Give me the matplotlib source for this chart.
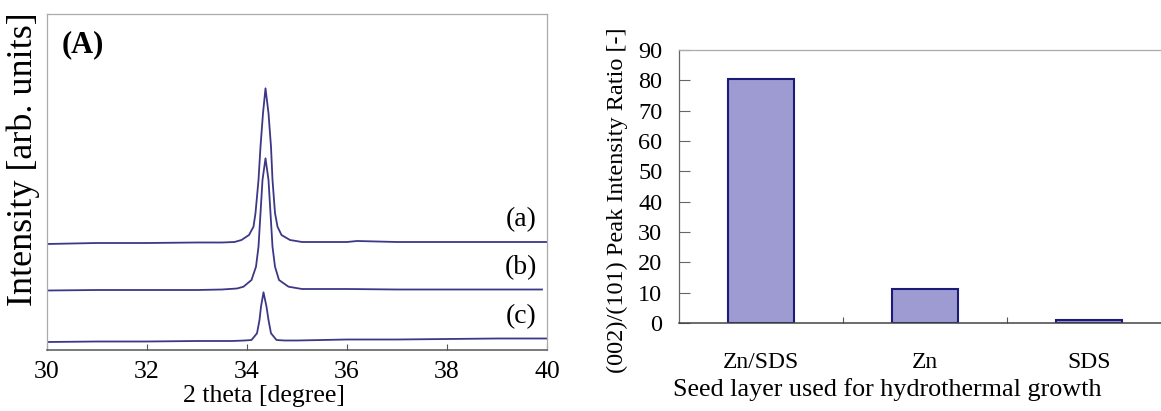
import matplotlib
matplotlib.use("Agg")
from matplotlib import pyplot as plt

plt.rcParams['font.family'] = ['Liberation Serif', 'DejaVu Serif']

# XRD patterns around the ZnO (002) peak, intensity in arbitrary units
theta_a = [30.0, 31.0, 32.0, 33.0, 33.5, 33.75, 33.89, 34.04, 34.13, 34.17, 34.23, 34.27,
           34.32, 34.37, 34.43, 34.48, 34.51, 34.56, 34.61, 34.69, 34.86, 35.1,
           35.5, 36.0, 36.2, 37.0, 38.0, 39.0, 40.0]
int_a = [106, 107, 107, 107.5, 107.5, 108, 110, 115, 123.3, 137, 170, 203.3,
         236.7, 261.7, 236.7, 203.3, 170, 137, 123.3, 115, 110, 108,
         108, 108, 109, 108, 108, 108, 108]

theta_b = [30.0, 31.0, 32.0, 33.0, 33.5, 33.8, 33.93, 34.09, 34.18, 34.23, 34.27, 34.31,
           34.37, 34.43, 34.47, 34.51, 34.56, 34.64, 34.83, 35.1, 36.0, 37.0, 38.0,
           39.0, 39.9]
int_b = [59.5, 60, 60, 60, 60.5, 61.5, 63.3, 70, 83.3, 103.3, 136.7, 170,
         191.7, 170, 136.7, 103.3, 83.3, 70, 63.3, 61, 61, 60.5, 60.5,
         60.5, 60.5]

theta_c = [30.0, 31.0, 32.0, 33.0, 33.7, 33.95, 34.09, 34.2, 34.25, 34.28, 34.33, 34.39,
           34.43, 34.48, 34.59, 34.75, 35.0, 36.0, 37.0, 38.0, 39.0, 40.0]
int_c = [8, 8.5, 8.5, 9, 9, 9.5, 10, 16.7, 30, 43.3, 57.7, 43.3,
         30, 16.7, 10, 9.5, 9.5, 10.5, 10.5, 11, 11.5, 11.5]

trace_labels = ['(a)', '(b)', '(c)']
label_heights = [130, 82, 33]

# (002)/(101) peak intensity ratio for each seed layer
seed_layers = ['Zn/SDS', 'Zn', 'SDS']
ratios = [80.5, 11.3, 1.0]

fig = plt.figure(figsize=(11.61, 4.11), dpi=100)

# ---- left panel: diffraction patterns ----
ax1 = fig.add_axes([47/1161, 61/411, 500/1161, 336/411])
line_color = '#3d3788'
for xs, ys in [(theta_a, int_a), (theta_b, int_b), (theta_c, int_c)]:
    ax1.plot(xs, ys, color=line_color, linewidth=1.3)

for lab, h in zip(trace_labels, label_heights):
    ax1.text(39.8, h, lab, ha='right', va='center', fontsize=20)

ax1.text(0.03, 0.908, '(A)', transform=ax1.transAxes, fontsize=22,
         fontweight='bold', ha='left', va='center')

ax1.set_xlim(30, 40)
ax1.set_ylim(0, 336)
ax1.set_xticks([30, 32, 34, 36, 38, 40])
ax1.set_yticks([])
ax1.tick_params(axis='x', direction='in', length=4, width=0.8, color='#555555',
                labelsize=18.5, pad=8)
for side in ['top', 'left', 'right']:
    ax1.spines[side].set_color('#aaaaaa')
    ax1.spines[side].set_linewidth(0.9)
ax1.spines['bottom'].set_color('#555555')
ax1.spines['bottom'].set_linewidth(1.1)

ax1.set_xlabel('2 theta [degree]', fontsize=18.5)
ax1.xaxis.label.set_va('center')
ax1.xaxis.set_label_coords(0.434, -0.138)
ax1.set_ylabel('Intensity [arb. units]', fontsize=26)
ax1.yaxis.label.set_va('center')
ax1.yaxis.set_label_coords(-0.048, 0.568)

# ---- right panel: peak intensity ratio ----
ax2 = fig.add_axes([679/1161, 88/411, 492/1161, 273/411])
pos = list(range(len(seed_layers)))
ax2.bar(pos, ratios, width=0.4, color='#9d9bd2', edgecolor='#1c1c78', linewidth=1.5)

ax2.set_xlim(-0.5, 2.5)
ax2.set_ylim(0, 90)
ax2.set_yticks(range(0, 91, 10))
ax2.set_xticks(pos)
ax2.set_xticklabels(seed_layers)
ax2.set_xticks([0.5, 1.5], minor=True)
ax2.tick_params(axis='x', which='major', length=0, labelsize=17, pad=21)
ax2.tick_params(axis='x', which='minor', direction='in', length=4, width=0.8,
                color='#555555')
ax2.tick_params(axis='y', direction='in', length=8, width=0.8, color='#666666',
                labelsize=17.5, pad=12)
ax2.spines['top'].set_color('#aaaaaa')
ax2.spines['top'].set_linewidth(0.9)
ax2.spines['left'].set_color('#666666')
ax2.spines['left'].set_linewidth(0.9)
ax2.spines['bottom'].set_color('#444444')
ax2.spines['bottom'].set_linewidth(1.1)
ax2.spines['right'].set_visible(False)

ax2.set_xlabel('Seed layer used for hydrothermal growth', fontsize=18.8)
ax2.xaxis.label.set_va('center')
ax2.xaxis.set_label_coords(0.423, -0.245)
ax2.set_ylabel('(002)/(101) Peak Intensity Ratio [-]', fontsize=17.5)
ax2.yaxis.label.set_va('center')
ax2.yaxis.set_label_coords(-0.126, 0.45)

fig.savefig('out.png', dpi=100)
